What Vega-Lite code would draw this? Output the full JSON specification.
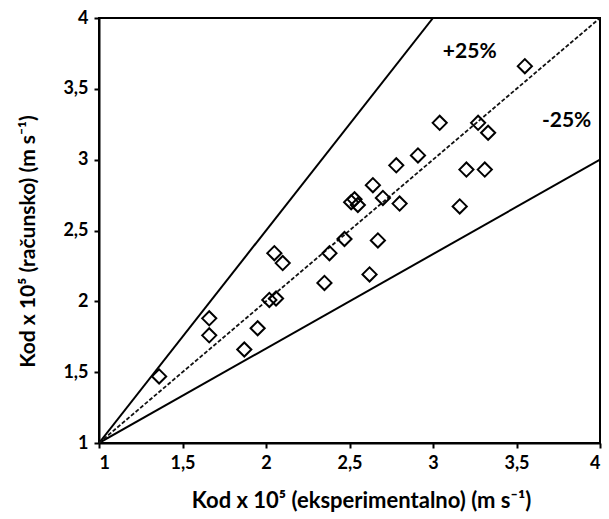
{
  "$schema": "https://vega.github.io/schema/vega-lite/v6.json",
  "width": 501,
  "height": 425,
  "autosize": "none",
  "padding": {"left": 99, "top": 18, "right": 9, "bottom": 76},
  "background": "white",
  "config": {
    "view": {"stroke": "black", "strokeWidth": 2},
    "font": "Lato",
    "axis": {
      "grid": false,
      "domainColor": "black",
      "domainWidth": 2,
      "tickColor": "black",
      "tickWidth": 2,
      "tickSize": 5,
      "labelFont": "Lato",
      "labelFontWeight": "bold",
      "labelFontSize": 18,
      "labelColor": "black",
      "titleFont": "Lato",
      "titleFontWeight": "bold",
      "titleColor": "black"
    }
  },
  "layer": [
    {
      "data": {"values": [
        {"s": "up", "x": 1, "y": 1},
        {"s": "up", "x": 3, "y": 4},
        {"s": "down", "x": 1, "y": 1},
        {"s": "down", "x": 4, "y": 3}
      ]},
      "mark": {"type": "line", "color": "black", "strokeWidth": 2, "clip": true},
      "encoding": {
        "x": {"field": "x", "type": "quantitative", "scale": {"domain": [1, 4], "nice": false},
          "axis": {"values": [1, 1.5, 2, 2.5, 3, 3.5, 4], "labelExpr": "replace(format(datum.value, '~g'), '.', ',')",
            "title": "Kod x 10⁵ (eksperimentalno) (m s⁻¹)", "titleFontSize": 22, "titleX": 262, "titlePadding": 18, "labelPadding": 6}},
        "y": {"field": "y", "type": "quantitative", "scale": {"domain": [1, 4], "nice": false},
          "axis": {"values": [1, 1.5, 2, 2.5, 3, 3.5, 4], "labelExpr": "replace(format(datum.value, '~g'), '.', ',')",
            "title": "Kod x 10⁵ (računsko) (m s⁻¹)", "titleFontSize": 21, "titleY": 223, "titlePadding": 24, "labelPadding": 6}},
        "detail": {"field": "s"}
      }
    },
    {
      "data": {"values": [
        {"x": 1, "y": 1},
        {"x": 4, "y": 4}
      ]},
      "mark": {"type": "line", "color": "#111111", "strokeWidth": 1.8, "strokeDash": [4, 2]},
      "encoding": {
        "x": {"field": "x", "type": "quantitative"},
        "y": {"field": "y", "type": "quantitative"}
      }
    },
    {
      "data": {"values": [
        {"x": 1.36, "y": 1.47},
        {"x": 1.66, "y": 1.88},
        {"x": 1.66, "y": 1.76},
        {"x": 2.05, "y": 2.34},
        {"x": 2.10, "y": 2.27},
        {"x": 2.02, "y": 2.01},
        {"x": 2.06, "y": 2.02},
        {"x": 1.95, "y": 1.81},
        {"x": 1.87, "y": 1.66},
        {"x": 2.35, "y": 2.13},
        {"x": 2.38, "y": 2.34},
        {"x": 2.47, "y": 2.44},
        {"x": 2.67, "y": 2.43},
        {"x": 2.62, "y": 2.19},
        {"x": 2.64, "y": 2.82},
        {"x": 2.51, "y": 2.70},
        {"x": 2.55, "y": 2.68},
        {"x": 2.53, "y": 2.72},
        {"x": 2.70, "y": 2.73},
        {"x": 2.80, "y": 2.69},
        {"x": 2.78, "y": 2.96},
        {"x": 2.91, "y": 3.03},
        {"x": 3.04, "y": 3.26},
        {"x": 3.27, "y": 3.26},
        {"x": 3.33, "y": 3.19},
        {"x": 3.20, "y": 2.93},
        {"x": 3.31, "y": 2.93},
        {"x": 3.16, "y": 2.67},
        {"x": 3.55, "y": 3.66}
      ]},
      "mark": {"type": "point", "shape": "diamond", "filled": false, "color": "black", "strokeWidth": 2, "size": 200, "opacity": 1},
      "encoding": {
        "x": {"field": "x", "type": "quantitative"},
        "y": {"field": "y", "type": "quantitative"}
      }
    },
    {
      "data": {"values": [
        {"x": 3.22, "y": 3.76, "t": "+25%"},
        {"x": 3.80, "y": 3.27, "t": "-25%"}
      ]},
      "mark": {"type": "text", "font": "Lato", "fontWeight": "bold", "fontSize": 21, "color": "black"},
      "encoding": {
        "x": {"field": "x", "type": "quantitative"},
        "y": {"field": "y", "type": "quantitative"},
        "text": {"field": "t"}
      }
    }
  ]
}
